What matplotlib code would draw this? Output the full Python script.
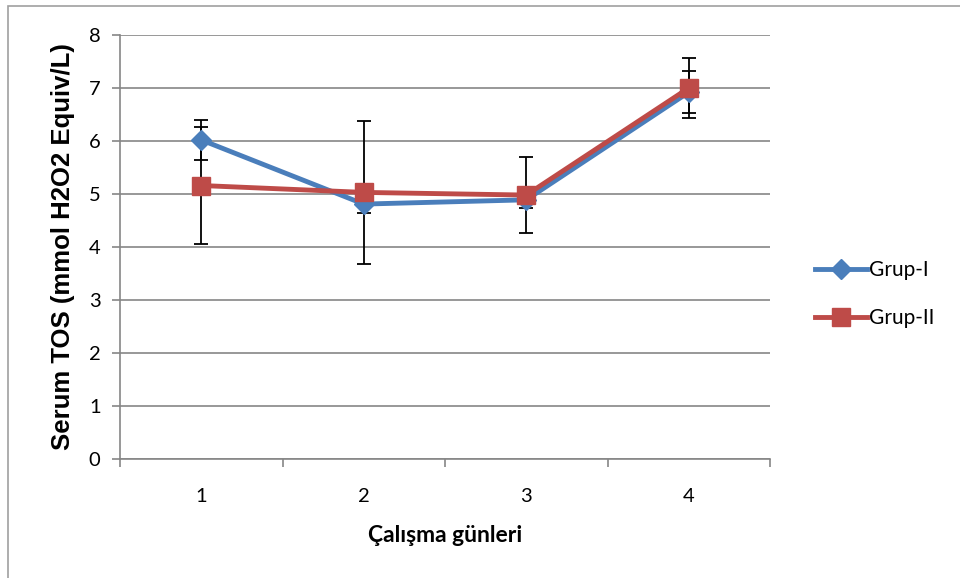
import matplotlib
matplotlib.use("Agg")
import matplotlib.pyplot as plt
from matplotlib.patches import Rectangle
from matplotlib.lines import Line2D

days = [1, 2, 3, 4]
grup1 = [6.02, 4.81, 4.89, 6.92]
grup1_err = [0.38, 0.17, 0.15, 0.40]
grup2 = [5.16, 5.03, 4.98, 7.00]
grup2_err = [1.10, 1.35, 0.72, 0.57]
yticks = [0, 1, 2, 3, 4, 5, 6, 7, 8]

blue = "#4a7ebb"
red = "#be4b48"
gray = "#868686"

plt.rcParams['font.family'] = ['Lato', 'DejaVu Sans']

fig = plt.figure(figsize=(9.6, 5.78), dpi=100)
ax = fig.add_axes([120/960, 1-459/578, 650/960, (459-35)/578])

ax.errorbar(days, grup1, yerr=grup1_err, fmt='none', ecolor='black', elinewidth=1.3,
            capsize=5, capthick=1.3, zorder=2)
ax.errorbar(days, grup2, yerr=grup2_err, fmt='none', ecolor='black', elinewidth=1.3,
            capsize=5, capthick=1.3, zorder=2)
ax.plot(days, grup1, color=blue, lw=3.5, marker='D', ms=10, mfc=blue, mec=blue, zorder=3)
ax.plot(days, grup2, color=red, lw=3.5, marker='s', ms=13, mfc=red, mec=red, zorder=4)

ax.set_xlim(0.5, 4.5)
ax.set_ylim(0, 8)
ax.set_yticks(yticks)
ax.set_xticks(days)
ax.set_xticks([0.5, 1.5, 2.5, 3.5, 4.5], minor=True)
ax.tick_params(axis='x', which='major', length=0, labelsize=14.5, pad=21)
ax.tick_params(axis='x', which='minor', length=6, color=gray, width=1.2, direction='out')
ax.tick_params(axis='y', length=6, color=gray, width=1.2, labelsize=14.5, pad=8)
ax.grid(axis='y', color=gray, lw=1.2, zorder=0)
ax.set_axisbelow(True)
for s in ['top', 'right']:
    ax.spines[s].set_visible(False)
for s in ['left', 'bottom']:
    ax.spines[s].set_color(gray)
    ax.spines[s].set_linewidth(1.2)

ax.set_ylabel("Serum TOS (mmol H2O2 Equiv/L)", fontsize=18.5, fontweight='bold',
              family=['Liberation Sans', 'DejaVu Sans'], labelpad=10)
ax.set_xlabel("Çalışma günleri", fontsize=16.5, fontweight='bold', labelpad=14)

handles = [Line2D([0], [0], color=blue, lw=3.5, marker='D', ms=10),
           Line2D([0], [0], color=red, lw=3.5, marker='s', ms=13)]
fig.legend(handles, ["Grup-I", "Grup-II"], loc='center left',
           bbox_to_anchor=(796/960, 1-294/578), frameon=False, fontsize=15,
           handlelength=2.5, handletextpad=0.1, labelspacing=1.35)

fig.patches.append(Rectangle((8/960, -0.1), 1.2, 1.1-6/578, transform=fig.transFigure,
                             fill=False, edgecolor='#a0a0a0', lw=1.2))

fig.savefig("out.png", dpi=100)
